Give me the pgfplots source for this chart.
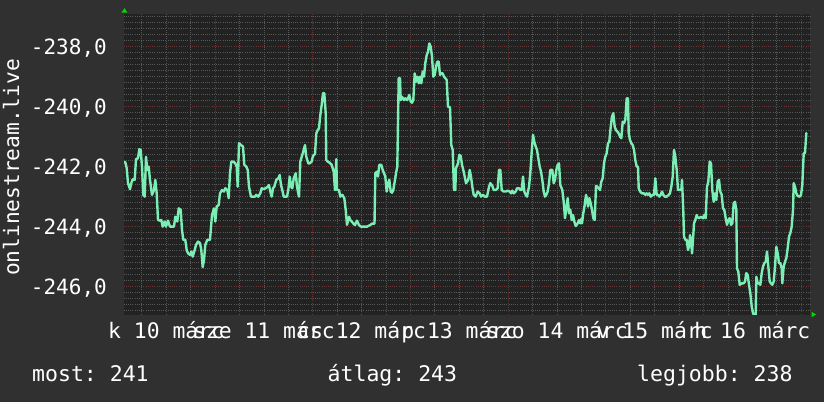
\documentclass[border=0pt]{standalone}
\usepackage{pgfplots}
\pgfplotsset{compat=1.18}
\usepackage{pgfplotstable}
\usepackage{fontspec}
\newfontfamily\rrd{DejaVu Sans Mono}
\frenchspacing
\definecolor{backc}{RGB}{48,48,48}
\definecolor{canvasc}{RGB}{34,34,34}
\definecolor{minorc}{RGB}{88,88,88}
\definecolor{majorc}{RGB}{104,52,52}
\definecolor{linec}{RGB}{122,238,180}
\definecolor{arrowc}{RGB}{0,220,0}
\definecolor{textc}{RGB}{255,255,255}

\pgfplotstableread{
x y
124.0 -241.85
125.3 -241.85
126.7 -242.05
128.0 -242.55
130.0 -242.75
131.3 -242.55
132.7 -242.42
134.7 -242.44
136.0 -241.75
138.0 -241.72
139.3 -241.42
140.7 -241.44
142.0 -242.00
143.3 -242.94
144.7 -243.00
146.0 -241.67
147.3 -242.11
148.7 -242.00
150.0 -242.44
152.0 -242.94
154.0 -242.78
155.3 -242.44
156.7 -242.89
158.0 -243.78
160.0 -243.80
161.3 -243.78
162.7 -244.00
164.7 -243.83
166.0 -244.00
168.0 -243.80
170.0 -244.00
172.0 -244.00
174.0 -244.00
175.3 -243.67
177.3 -243.83
178.7 -243.39
180.7 -243.44
182.0 -244.11
183.3 -244.44
185.3 -244.44
186.7 -244.78
188.0 -244.89
190.0 -244.94
191.3 -244.83
192.7 -245.00
194.7 -244.78
196.0 -244.61
198.0 -244.50
200.0 -244.55
201.3 -244.78
202.7 -245.35
204.0 -245.11
205.3 -244.61
207.3 -244.44
210.0 -244.44
212.0 -243.61
214.0 -243.39
215.3 -243.83
216.7 -243.33
218.7 -243.28
220.0 -242.89
222.0 -242.78
224.0 -242.83
225.3 -242.72
227.3 -242.78
228.7 -243.05
230.0 -242.22
231.3 -241.83
233.3 -241.83
235.3 -241.89
236.7 -242.00
237.7 -242.67
239.0 -241.22
241.0 -241.28
243.0 -241.33
244.3 -241.94
246.3 -242.00
247.7 -242.11
249.0 -242.67
251.0 -243.00
253.0 -243.00
255.0 -243.00
256.3 -242.94
258.3 -243.00
260.3 -242.89
261.7 -242.72
263.7 -242.75
265.7 -242.72
267.7 -242.67
269.0 -242.61
270.3 -242.83
271.7 -243.00
273.0 -242.72
274.3 -242.67
276.3 -242.44
278.3 -242.39
279.7 -242.28
281.0 -242.61
282.3 -242.78
283.7 -243.00
285.7 -243.00
287.0 -243.00
288.3 -242.78
289.7 -242.33
291.0 -242.67
292.3 -242.72
293.7 -242.39
295.7 -242.22
297.0 -242.67
299.0 -243.00
300.3 -241.83
302.3 -241.61
303.7 -241.44
305.0 -241.28
306.3 -241.67
308.3 -241.89
309.7 -241.89
311.7 -241.83
313.0 -241.64
315.0 -241.58
316.3 -240.89
317.7 -240.78
319.0 -240.72
320.3 -240.28
321.7 -239.94
323.0 -239.55
324.3 -239.55
325.7 -240.22
326.3 -241.78
327.7 -241.83
329.7 -241.87
331.7 -241.94
333.7 -242.17
335.0 -242.78
336.3 -241.75
337.0 -242.78
339.0 -242.78
340.3 -243.00
342.3 -242.94
344.3 -243.05
345.7 -243.44
347.0 -243.94
349.0 -243.67
350.3 -243.78
351.7 -243.83
353.5 -243.90
355.0 -243.95
357.0 -243.80
359.0 -243.95
361.0 -244.00
364.0 -244.00
367.0 -244.00
370.0 -243.95
372.0 -243.90
374.5 -243.90
375.3 -242.22
376.7 -242.17
378.0 -242.33
379.3 -241.94
381.3 -241.94
382.7 -242.11
384.0 -242.22
385.3 -242.33
386.7 -242.83
388.0 -242.55
389.3 -242.44
390.7 -242.83
392.0 -242.87
393.3 -242.78
394.7 -242.50
396.0 -242.22
397.3 -242.00
398.7 -239.05
400.0 -239.05
400.7 -239.78
402.0 -239.67
404.0 -239.78
405.3 -239.72
407.3 -239.78
409.3 -239.61
410.7 -239.83
412.0 -239.87
413.3 -239.78
414.7 -238.89
416.0 -239.17
417.3 -239.00
418.7 -239.22
420.0 -239.00
421.3 -239.22
422.7 -238.83
424.0 -239.00
425.3 -238.55
426.7 -238.28
428.0 -238.17
429.3 -237.89
430.7 -238.00
432.0 -238.33
433.3 -239.00
434.7 -238.94
436.0 -238.67
437.3 -238.50
438.7 -238.50
440.0 -238.94
441.3 -238.89
442.7 -238.89
444.0 -239.00
445.3 -239.05
446.7 -239.11
448.0 -240.00
450.0 -240.02
451.3 -241.28
452.7 -241.44
454.0 -242.78
455.3 -242.78
456.0 -242.05
458.0 -241.89
459.3 -241.61
460.7 -241.64
462.0 -241.94
463.3 -242.11
464.7 -242.33
466.0 -242.55
468.3 -242.44
469.7 -242.11
471.0 -242.33
472.3 -242.67
473.7 -242.94
475.7 -243.00
477.7 -242.83
479.7 -242.89
481.0 -243.00
483.0 -242.94
485.0 -243.00
487.0 -243.00
489.0 -242.67
490.3 -242.55
492.3 -242.64
493.7 -242.78
495.7 -242.78
497.7 -242.72
499.0 -242.11
500.3 -242.11
501.7 -242.78
503.7 -242.83
505.7 -242.83
507.7 -242.80
509.7 -242.83
511.0 -242.89
512.3 -242.80
513.7 -242.89
515.7 -242.83
517.0 -242.72
519.0 -242.72
520.3 -242.78
521.7 -242.78
523.0 -242.33
524.3 -242.83
525.7 -242.94
527.0 -243.00
529.0 -242.67
530.3 -242.22
531.7 -241.50
533.0 -240.94
534.3 -241.17
535.7 -241.33
537.0 -241.44
538.3 -241.72
539.7 -242.00
541.0 -242.17
542.3 -242.44
543.7 -242.83
545.0 -243.00
546.3 -242.94
547.7 -242.83
549.0 -242.55
550.3 -242.11
552.3 -242.11
553.7 -242.55
555.0 -242.44
556.3 -242.11
557.7 -241.94
559.0 -241.89
560.3 -242.61
562.3 -242.78
563.7 -243.17
565.0 -243.72
566.3 -243.39
567.7 -243.05
569.0 -243.55
570.3 -243.44
571.7 -243.78
573.0 -243.61
574.3 -243.83
575.7 -243.98
577.7 -243.89
579.0 -243.78
580.3 -243.89
581.7 -243.72
582.0 -243.89
583.3 -243.55
584.7 -243.28
586.0 -242.94
587.3 -243.11
588.0 -243.33
589.3 -243.05
590.7 -243.22
592.0 -243.44
593.3 -243.72
594.7 -243.78
596.0 -242.64
597.3 -242.67
598.7 -242.72
600.0 -242.78
601.3 -242.50
602.7 -242.39
604.0 -241.89
605.3 -241.67
606.7 -241.55
608.0 -241.22
609.3 -241.17
610.7 -240.67
612.0 -240.33
613.3 -240.22
614.7 -240.67
616.0 -240.78
617.3 -240.83
618.7 -240.89
620.0 -241.00
621.3 -241.05
622.7 -240.50
624.0 -240.55
625.3 -240.44
626.7 -239.72
628.0 -239.72
628.7 -240.89
630.0 -241.11
631.3 -241.22
632.7 -241.28
634.0 -241.44
635.3 -241.78
636.7 -242.00
638.0 -242.00
638.7 -242.72
640.0 -242.83
642.0 -242.89
644.0 -242.89
645.3 -242.94
646.7 -242.89
648.0 -242.94
649.3 -242.89
650.7 -243.00
652.7 -242.94
654.0 -242.94
655.3 -242.39
656.7 -242.94
658.0 -242.94
659.3 -243.00
660.7 -242.94
662.0 -242.83
663.3 -242.94
664.7 -243.00
666.7 -243.00
668.7 -242.94
670.0 -242.89
671.3 -242.67
672.7 -242.33
674.0 -241.44
675.3 -241.67
676.7 -242.11
678.0 -242.78
680.0 -242.78
681.3 -242.78
682.0 -242.44
683.3 -243.50
684.0 -244.33
685.3 -244.44
686.7 -244.44
688.0 -244.78
689.3 -244.61
690.0 -244.28
691.3 -244.55
692.0 -244.89
693.3 -244.28
694.0 -243.89
695.3 -243.78
696.7 -243.61
697.0 -243.67
699.0 -243.72
701.0 -243.67
703.0 -243.72
704.3 -243.61
705.7 -243.72
707.0 -242.67
708.3 -242.50
709.7 -241.83
711.0 -241.89
712.3 -242.78
713.7 -243.17
715.0 -242.89
716.3 -243.11
717.7 -242.50
719.0 -242.44
720.3 -242.83
721.7 -242.94
723.0 -243.39
724.3 -243.44
725.7 -243.72
727.0 -243.94
728.3 -243.78
729.7 -243.72
731.0 -243.94
732.3 -243.89
733.7 -243.22
735.0 -243.17
736.3 -243.44
737.0 -245.39
738.3 -245.50
739.7 -245.94
741.7 -245.89
743.7 -245.89
745.0 -245.83
746.3 -245.55
747.7 -245.61
749.0 -245.94
750.3 -246.22
751.7 -246.66
753.0 -246.89
754.3 -246.94
755.7 -246.94
756.3 -245.67
757.7 -245.89
759.0 -245.89
760.3 -245.94
761.7 -245.55
763.0 -245.33
764.3 -245.22
765.7 -245.17
767.0 -244.83
768.3 -245.33
769.7 -245.83
771.0 -245.89
772.3 -245.94
773.7 -245.83
775.0 -245.33
776.3 -244.67
777.7 -244.89
779.0 -245.22
780.3 -245.22
781.7 -245.39
782.3 -245.89
783.7 -245.33
785.0 -245.17
786.3 -245.05
787.7 -244.72
789.0 -244.33
790.3 -244.22
791.7 -244.00
793.0 -243.44
793.7 -242.55
795.0 -242.67
796.3 -242.89
797.7 -242.98
799.7 -243.00
801.0 -242.94
802.3 -242.61
803.7 -241.55
805.0 -241.55
806.3 -240.89
807.0 -240.87
}\datatable

\begin{document}
\begin{tikzpicture}
\fill[backc] (0pt,0pt) rectangle (824pt,402pt);
\path[use as bounding box] (0pt,0pt) rectangle (824pt,402pt);
\begin{axis}[
  at={(123.5pt,87.5pt)}, anchor=south west,
  width=686.5pt, height=300.5pt, scale only axis,
  xmin=123.5, xmax=810, ymin=-246.93, ymax=-236.91,
  axis background/.style={fill=canvasc},
  axis line style={draw=none},
  major tick length=0pt, minor tick length=0pt,
  grid=both,
  minor grid style={color=minorc, line width=0.7pt, dash pattern=on 1pt off 1.2pt},
  major grid style={color=majorc, line width=0.7pt, dash pattern=on 1pt off 1.2pt},
  ytick={-246,-244,-242,-240,-238},
  yticklabels={{-246,0},{-244,0},{-242,0},{-240,0},{-238,0}},
  minor ytick={-246.8,-246.6,-246.4,-246.2,-245.8,-245.6,-245.4,-245.2,-245,-244.8,-244.6,-244.4,-244.2,-243.8,-243.6,-243.4,-243.2,-243,-242.8,-242.6,-242.4,-242.2,-241.8,-241.6,-241.4,-241.2,-241,-240.8,-240.6,-240.4,-240.2,-239.8,-239.6,-239.4,-239.2,-239,-238.8,-238.6,-238.4,-238.2,-237.8,-237.6,-237.4,-237.2,-237},
  xtick={215,312.7,410.4,508.1,605.8,703.5,801.2},
  xticklabels={},
  minor xtick={141.7,166.1,190.6,239.4,263.9,288.3,337.1,361.6,386.0,434.8,459.3,483.7,532.5,557.0,581.4,630.2,654.7,679.1,727.9,752.4,776.8},
  extra x ticks={166.1,263.9,361.6,459.3,557.0,654.7,752.4},
  extra x tick labels={k 10 márc,sze 11 márc,cs 12 márc,p 13 márc,szo 14 márc,v 15 márc,h 16 márc},
  extra x tick style={grid=none},
  tick label style={text=textc, inner sep=0pt},
  yticklabel style={font=\rrd\fontsize{21}{21}\selectfont, anchor=base east, xshift=-16.5pt, yshift=-7.6pt},
  xticklabel style={font=\rrd\fontsize{21.4}{21.4}\selectfont, anchor=base, yshift=-23.8pt},
  clip=true,
]
\addplot[linec, line width=2.4pt, line join=round, no markers] table[x=x,y=y] {\datatable};
\end{axis}
\fill[arrowc] (121.5pt,389.3pt) -- (127.5pt,389.3pt) -- (124.5pt,393.8pt) -- cycle;
\fill[arrowc] (811.5pt,84.8pt) -- (811.5pt,90.2pt) -- (816pt,87.5pt) -- cycle;
\node[rotate=90, anchor=base, inner sep=0pt, text=textc, font=\rrd\fontsize{21.2}{21.2}\selectfont] at (19pt,234.5pt) {onlinestream.live};
\node[anchor=base west, inner sep=0pt, text=textc, font=\rrd\fontsize{21.5}{21.5}\selectfont] at (32pt,20.3pt) {most: 241};
\node[anchor=base west, inner sep=0pt, text=textc, font=\rrd\fontsize{21.5}{21.5}\selectfont] at (327.5pt,20.3pt) {átlag: 243};
\node[anchor=base west, inner sep=0pt, text=textc, font=\rrd\fontsize{21.5}{21.5}\selectfont] at (637pt,20.3pt) {legjobb: 238};
\end{tikzpicture}
\end{document}
